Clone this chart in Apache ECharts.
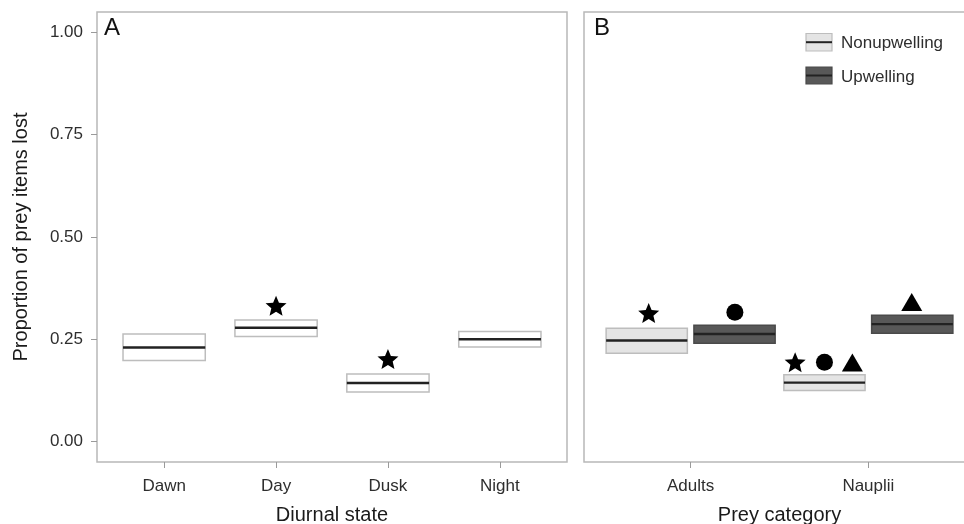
<!DOCTYPE html>
<html>
<head>
<meta charset="utf-8">
<script src="https://cdn.jsdelivr.net/npm/echarts@6/dist/echarts.min.js"></script>
<style>
html,body{margin:0;padding:0;background:#fff;}
#chart{width:964px;height:524px;}
</style>
</head>
<body>
<div id="chart"></div>
<script>
// ---- Data ----
const catsA = ['Dawn', 'Day', 'Dusk', 'Night'];
const lowerA = [0.198, 0.257, 0.121, 0.231];
const medianA = [0.230, 0.278, 0.143, 0.250];
const upperA = [0.263, 0.297, 0.165, 0.269];

const catsB = ['Adults', 'Nauplii'];
const groupNames = ['Nonupwelling', 'Upwelling'];
const lowerNon = [0.216, 0.125];
const medianNon = [0.247, 0.144];
const upperNon = [0.277, 0.163];
const lowerUp = [0.240, 0.265];
const medianUp = [0.263, 0.287];
const upperUp = [0.284, 0.309];

const yTicks = [0, 0.25, 0.5, 0.75, 1.0];

// significance markers
const sigAx = [2, 3];
const sigAy = [0.332, 0.202];
const sigBx = [0.764, 1.249, 1.588, 1.753, 1.910, 2.244];
const sigBy = [0.314, 0.316, 0.194, 0.194, 0.193, 0.341];
const sigBshape = ['star', 'circle', 'star', 'circle', 'triangle', 'triangle'];

// ---- Styles ----
const FONT = "'Liberation Sans', Arial, Helvetica, sans-serif";
const BORDER = '#b8b8b8';
const TICK = '#9a9a9a';
const LABEL = '#2e2e2e';
const TITLE = '#1a1a1a';
const fillA = '#ffffff', strokeA = '#bdbdbd';
const fillNon = '#e4e4e4', strokeNon = '#bdbdbd';
const fillUp = '#585858', strokeUp = '#4a4a4a';
const MEDIAN = '#222222';
const widthA = 0.735;
const widthB = 0.457;
const dodgeB = 0.247;

// star path
function starPath() {
  let d = '';
  for (let i = 0; i < 10; i++) {
    const r = i % 2 === 0 ? 1 : 0.45;
    const a = -Math.PI / 2 + i * Math.PI / 5;
    const x = (r * Math.cos(a)).toFixed(4), y = (r * Math.sin(a)).toFixed(4);
    d += (i === 0 ? 'M' : 'L') + x + ' ' + y + ' ';
  }
  return 'path://' + d + 'Z';
}
const STAR = starPath();
const shapeMap = { star: STAR, circle: 'circle', triangle: 'triangle' };
const sizeMap = { star: [21, 20], circle: 17, triangle: [21, 18] };

function boxRender(w, fill, stroke) {
  return function (params, api) {
    const x = api.value(0), lo = api.value(1), med = api.value(2), hi = api.value(3);
    const p1 = api.coord([x - w / 2, hi]);
    const p2 = api.coord([x + w / 2, lo]);
    const pm1 = api.coord([x - w / 2, med]);
    const pm2 = api.coord([x + w / 2, med]);
    return {
      type: 'group',
      children: [
        { type: 'rect', shape: { x: p1[0], y: p1[1], width: p2[0] - p1[0], height: p2[1] - p1[1] },
          style: { fill: fill, stroke: stroke, lineWidth: 1.5 } },
        { type: 'line', shape: { x1: pm1[0], y1: pm1[1], x2: pm2[0], y2: pm2[1] },
          style: { stroke: MEDIAN, lineWidth: 2.4 } }
      ]
    };
  };
}

const dataA = catsA.map((c, i) => [i + 1, lowerA[i], medianA[i], upperA[i]]);
const dataNon = catsB.map((c, i) => [i + 1 - dodgeB, lowerNon[i], medianNon[i], upperNon[i]]);
const dataUp = catsB.map((c, i) => [i + 1 + dodgeB, lowerUp[i], medianUp[i], upperUp[i]]);

const yAxisBase = {
  type: 'value', min: -0.05, max: 1.05,
  splitLine: { show: false },
  axisLine: { show: false, onZero: false }
};

const option = {
  animation: false,
  textStyle: { fontFamily: FONT },
  grid: [
    { left: 97, top: 12, width: 470, height: 450, show: true, borderColor: BORDER, borderWidth: 1.5, backgroundColor: '#fff', containLabel: false, outerBoundsMode: 'none' },
    { left: 584, top: 12, width: 391, height: 450, show: true, borderColor: BORDER, borderWidth: 1.5, backgroundColor: '#fff', containLabel: false, outerBoundsMode: 'none' }
  ],
  xAxis: [
    {
      gridIndex: 0, type: 'value', min: 0.4, max: 4.6,
      splitLine: { show: false }, axisLine: { show: false, onZero: false },
      axisTick: { show: true, length: 6, customValues: catsA.map((c, i) => i + 1), lineStyle: { color: TICK, width: 1 } },
      axisLabel: { customValues: catsA.map((c, i) => i + 1), formatter: v => catsA[Math.round(v) - 1], fontSize: 17, color: LABEL, margin: 16, fontFamily: FONT },
      name: 'Diurnal state', nameLocation: 'middle', nameGap: 43,
      nameTextStyle: { fontSize: 20, color: TITLE, fontFamily: FONT }
    },
    {
      gridIndex: 1, type: 'value', min: 0.4, max: 2.6,
      splitLine: { show: false }, axisLine: { show: false, onZero: false },
      axisTick: { show: true, length: 6, customValues: catsB.map((c, i) => i + 1), lineStyle: { color: TICK, width: 1 } },
      axisLabel: { customValues: catsB.map((c, i) => i + 1), formatter: v => catsB[Math.round(v) - 1], fontSize: 17, color: LABEL, margin: 16, fontFamily: FONT },
      name: 'Prey category', nameLocation: 'middle', nameGap: 43,
      nameTextStyle: { fontSize: 20, color: TITLE, fontFamily: FONT }
    }
  ],
  yAxis: [
    Object.assign({}, yAxisBase, {
      gridIndex: 0,
      axisTick: { show: true, length: 6, customValues: yTicks, lineStyle: { color: TICK, width: 1 } },
      axisLabel: { customValues: yTicks, formatter: v => v.toFixed(2), fontSize: 17, color: LABEL, margin: 14, fontFamily: FONT },
      name: 'Proportion of prey items lost', nameLocation: 'middle', nameGap: 66,
      nameTextStyle: { fontSize: 20, color: TITLE, fontFamily: FONT }
    }),
    Object.assign({}, yAxisBase, {
      gridIndex: 1,
      axisTick: { show: false },
      axisLabel: { show: false }
    })
  ],
  series: [
    { type: 'custom', name: 'A', xAxisIndex: 0, yAxisIndex: 0, data: dataA,
      encode: { x: 0, y: [1, 2, 3] }, renderItem: boxRender(widthA, fillA, strokeA) },
    { type: 'custom', name: groupNames[0], xAxisIndex: 1, yAxisIndex: 1, data: dataNon,
      encode: { x: 0, y: [1, 2, 3] }, renderItem: boxRender(widthB, fillNon, strokeNon) },
    { type: 'custom', name: groupNames[1], xAxisIndex: 1, yAxisIndex: 1, data: dataUp,
      encode: { x: 0, y: [1, 2, 3] }, renderItem: boxRender(widthB, fillUp, strokeUp) },
    { type: 'scatter', xAxisIndex: 0, yAxisIndex: 0,
      data: sigAx.map((x, i) => [x, sigAy[i]]),
      symbol: STAR, symbolSize: sizeMap.star, itemStyle: { color: '#000', opacity: 1 }, z: 5 },
    { type: 'scatter', xAxisIndex: 1, yAxisIndex: 1,
      data: sigBx.map((x, i) => ({ value: [x, sigBy[i]], symbol: shapeMap[sigBshape[i]], symbolSize: sizeMap[sigBshape[i]] })),
      itemStyle: { color: '#000', opacity: 1 }, z: 5 }
  ],
  graphic: [
    { type: 'text', left: 104, top: 16, style: { text: 'A', fontSize: 24, fill: '#111', fontFamily: FONT } },
    { type: 'text', left: 594, top: 16, style: { text: 'B', fontSize: 24, fill: '#111', fontFamily: FONT } },
    // legend
    { type: 'rect', shape: { x: 806, y: 33.5, width: 26, height: 17.5 }, style: { fill: fillNon, stroke: strokeNon, lineWidth: 1.2 } },
    { type: 'line', shape: { x1: 806, y1: 42.2, x2: 832, y2: 42.2 }, style: { stroke: MEDIAN, lineWidth: 2 } },
    { type: 'text', x: 841, y: 43, style: { text: groupNames[0], fontSize: 17, fill: LABEL, fontFamily: FONT, verticalAlign: 'middle' } },
    { type: 'rect', shape: { x: 806, y: 67, width: 26, height: 17 }, style: { fill: fillUp, stroke: strokeUp, lineWidth: 1.2 } },
    { type: 'line', shape: { x1: 806, y1: 75.5, x2: 832, y2: 75.5 }, style: { stroke: MEDIAN, lineWidth: 2 } },
    { type: 'text', x: 841, y: 77, style: { text: groupNames[1], fontSize: 17, fill: LABEL, fontFamily: FONT, verticalAlign: 'middle' } }
  ]
};

const chart = echarts.init(document.getElementById('chart'), null, { renderer: 'canvas' });
chart.setOption(option);
</script>
</body>
</html>
